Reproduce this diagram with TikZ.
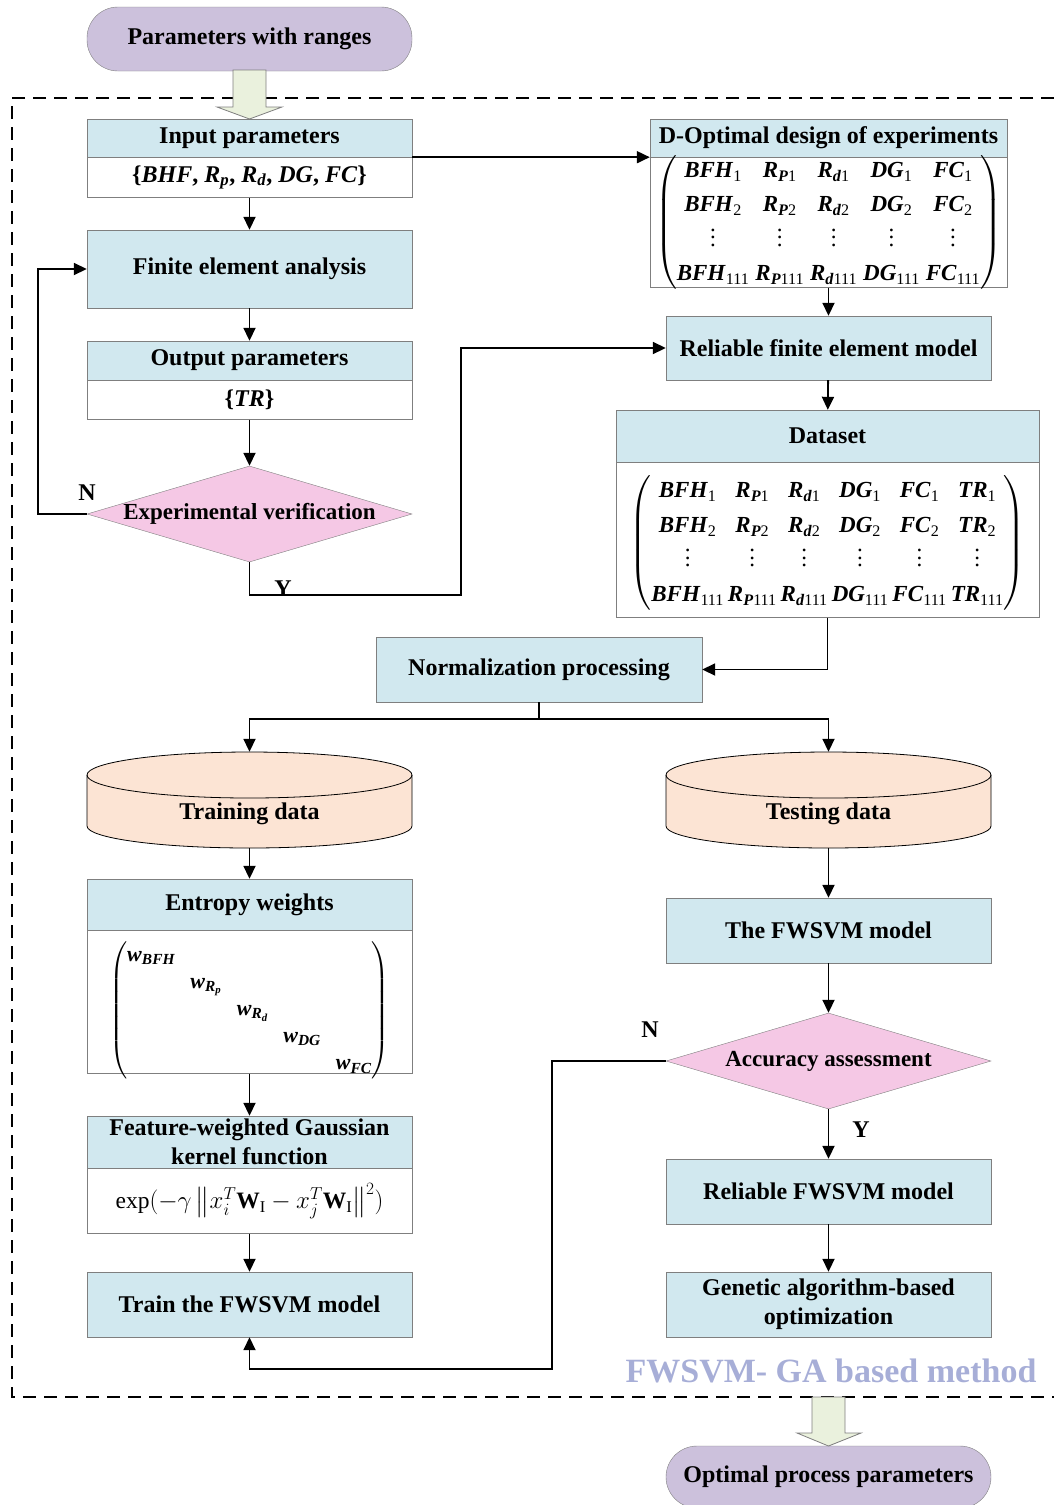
\documentclass[tikz,border=0pt]{standalone}
\usepackage{amsmath}
\usepackage{fontspec}
\setmainfont{Liberation Serif}
\usetikzlibrary{arrows.meta,positioning,shapes.geometric}
\definecolor{boxblue}{HTML}{D1E8EF}
\definecolor{lavender}{HTML}{CCC1DC}
\definecolor{pinkish}{HTML}{F5C8E5}
\definecolor{peach}{HTML}{FCE4D4}
\definecolor{arrowgreen}{HTML}{EAF1DD}
\definecolor{titleblue}{HTML}{A7AED7}
\definecolor{bordergray}{HTML}{7F7F7F}
\newcommand{\boxfont}{\bfseries\fontsize{24}{29}\selectfont}
\newcommand{\matfont}{\fontsize{23}{25}\selectfont}
\newcommand{\sbi}[1]{\textbf{\textit{#1}}}
\newcommand{\mv}[2]{\sbi{#1}\textsubscript{#2}}
\newcommand{\vd}{\vbox{\baselineskip=7.5pt\lineskiplimit=0pt\hbox{.}\hbox{.}\hbox{.}}}

\begin{document}
\begin{tikzpicture}[x=1pt,y=1pt,
  box/.style={draw=bordergray, fill=boxblue, minimum width=325pt, font=\boxfont, align=center, inner sep=2pt},
  sub/.style={draw=bordergray, fill=white, minimum width=325pt, inner sep=0pt, font=\matfont},
  term/.style={draw=bordergray, fill=lavender, rounded corners=31pt, minimum width=325pt, minimum height=64pt, font=\boxfont},
  decision/.style={diamond, draw=bordergray, fill=pinkish, minimum width=325pt, minimum height=96pt, inner sep=0pt, shape aspect=3.4, font=\bfseries\fontsize{23}{27}\selectfont},
  cyl/.style={minimum width=325pt, minimum height=96pt, inner sep=0pt, text height=67pt, text depth=29pt, font=\boxfont},
  lbl/.style={font=\boxfont},
  arr/.style={-{Triangle[length=13pt,width=12pt]}, line width=1.8pt},
  bigarrow/.style={draw=bordergray, fill=arrowgreen, line width=0.8pt}
  ]
  \useasboundingbox (0,0) rectangle (1054,-1505);

  % frame of the method
  \draw[line width=1.8pt, dash pattern=on 13pt off 8pt] (1054,-98) -- (12,-98) -- (12,-1397) -- (1054,-1397);
  \node[font=\bfseries\fontsize{34}{38}\selectfont, text=titleblue] (method) at (831,-1371) {FWSVM- GA based method};

  % start and end
  \node[term] (start) at (249.5,-39) {Parameters with ranges};
  \node[term, minimum height=62pt] (stop) at (828.5,-1477) {Optimal process parameters};
  \draw[bigarrow] (233,-70) -- (233,-107) -- (217,-107) -- (249.5,-119) -- (282,-107) -- (266,-107) -- (266,-70) -- cycle;
  \draw[bigarrow] (812,-1397) -- (812,-1433) -- (797,-1433) -- (828.5,-1446) -- (861,-1433) -- (845,-1433) -- (845,-1397) -- cycle;

  % left column
  \node[box, minimum height=38pt] (inp) at (249.5,-138) {Input parameters};
  \node[sub, minimum height=40pt, below=0pt of inp, font=\boxfont] (inpv) {\{\sbi{BHF}, \sbi{R}\textsubscript{\sbi{p}}, \sbi{R}\textsubscript{\sbi{d}}, \sbi{DG}, \sbi{FC}\}};
  \node[box, minimum height=78pt] (fea) at (249.5,-269) {Finite element analysis};
  \node[box, minimum height=39pt] (outp) at (249.5,-360.5) {Output parameters};
  \node[sub, minimum height=39pt, below=0pt of outp, font=\boxfont] (outv) {\{\sbi{TR}\}};
  \node[decision] (expv) at (249.5,-514) {Experimental verification};

  % right column
  \node[box, minimum width=357pt, minimum height=38pt] (dopt) at (828.5,-138) {D-Optimal design of experiments};
  \node[sub, minimum width=357pt, minimum height=130pt, below=0pt of dopt] (doptm) {%
    \setlength{\tabcolsep}{3pt}\renewcommand{\arraystretch}{1.37}%
    \smash{\raisebox{-6pt}{$\left(\begin{tabular}{@{}ccccc@{}}
      \mv{BFH}{1} & \mv{R}{\sbi{P}1} & \mv{R}{\sbi{d}1} & \mv{DG}{1} & \mv{FC}{1}\\
      \mv{BFH}{2} & \mv{R}{\sbi{P}2} & \mv{R}{\sbi{d}2} & \mv{DG}{2} & \mv{FC}{2}\\
      \vd & \vd & \vd & \vd & \vd\\
      \mv{BFH}{111} & \mv{R}{\sbi{P}111} & \mv{R}{\sbi{d}111} & \mv{DG}{111} & \mv{FC}{111}
    \end{tabular}\right)$}}};
  \node[box, minimum height=64pt] (rfem) at (828.5,-348) {Reliable finite element model};
  \node[box, minimum width=423pt, minimum height=52pt] (data) at (827.5,-436) {Dataset};
  \node[sub, minimum width=423pt, minimum height=155pt, below=0pt of data] (datam) {%
    \setlength{\tabcolsep}{2pt}\renewcommand{\arraystretch}{1.38}%
    \smash{\raisebox{-9pt}{$\left(\begin{tabular}{@{}cccccc@{}}
      \mv{BFH}{1} & \mv{R}{\sbi{P}1} & \mv{R}{\sbi{d}1} & \mv{DG}{1} & \mv{FC}{1} & \mv{TR}{1}\\
      \mv{BFH}{2} & \mv{R}{\sbi{P}2} & \mv{R}{\sbi{d}2} & \mv{DG}{2} & \mv{FC}{2} & \mv{TR}{2}\\
      \vd & \vd & \vd & \vd & \vd & \vd\\
      \mv{BFH}{111} & \mv{R}{\sbi{P}111} & \mv{R}{\sbi{d}111} & \mv{DG}{111} & \mv{FC}{111} & \mv{TR}{111}
    \end{tabular}\right)$}}};
  \node[box, minimum width=326pt, minimum height=65pt] (norm) at (539,-669.5) {Normalization processing};

  % data sets
  \foreach \cx in {249.5,828.5}{
    \filldraw[draw=black, fill=peach, line width=0.8pt] (\cx-162.5,-775) -- (\cx-162.5,-826)
      arc[start angle=180, end angle=360, x radius=162.5, y radius=22] -- (\cx+162.5,-775)
      arc[start angle=0, end angle=180, x radius=162.5, y radius=23] -- cycle;
    \draw[line width=0.8pt] (\cx-162.5,-775) arc[start angle=180, end angle=360, x radius=162.5, y radius=23];
  }
  \node[cyl] (train) at (249.5,-800) {Training data};
  \node[cyl] (test) at (828.5,-800) {Testing data};

  % training branch
  \node[box, minimum height=51pt] (ent) at (249.5,-904.5) {Entropy weights};
  \node[sub, minimum height=143pt, below=0pt of ent, font=\fontsize{22}{24}\selectfont] (entm) {%
    \setlength{\tabcolsep}{7.5pt}\renewcommand{\arraystretch}{1.13}%
    \smash{\raisebox{-13.5pt}{$\left(\begin{tabular}{@{}ccccc@{}}
      \sbi{w}\textsubscript{\sbi{BFH}} & & & & \\
      & \sbi{w}\textsubscript{\sbi{R}\textsubscript{\sbi{p}}} & & & \\
      & & \sbi{w}\textsubscript{\sbi{R}\textsubscript{\sbi{d}}} & & \\
      & & & \sbi{w}\textsubscript{\sbi{DG}} & \\
      & & & & \sbi{w}\textsubscript{\sbi{FC}}
    \end{tabular}\right)$}}};
  \node[box, minimum height=52pt, inner sep=0pt] (kern) at (249.5,-1142) {Feature-weighted Gaussian\\kernel function};
  \node[sub, minimum height=65pt, below=0pt of kern, font=\fontsize{23.5}{25}\selectfont] (kernf) {$\text{exp}(-\gamma\left\|x_i^T\mathbf{W}_\mathrm{I}-x_j^T\mathbf{W}_\mathrm{I}\right\|^2)$};
  \node[box, minimum height=65pt] (trainm) at (249.5,-1304.5) {Train the FWSVM model};

  % testing branch
  \node[box, minimum height=65pt] (fwsvm) at (828.5,-930.5) {The FWSVM model};
  \node[decision] (acc) at (828.5,-1061) {Accuracy assessment};
  \node[box, minimum height=65pt] (rfwsvm) at (828.5,-1191.5) {Reliable FWSVM model};
  \node[box, minimum height=65pt] (ga) at (828.5,-1304.5) {Genetic algorithm-based\\optimization};

  % connectors
  \draw[arr] (inpv) -- (fea);
  \draw[arr] (inp.south east) -- (dopt.south west);
  \draw[arr] (fea) -- (outp);
  \draw[arr] (outv) -- (expv);
  \draw[arr] (expv.west) -- ++(-49,0) |- (fea.west);
  \node[lbl] (no1) at (87,-493) {N};
  \draw[arr] (expv.south) |- (461,-595) |- (rfem.west);
  \node[lbl] (yes1) at (283,-589) {Y};
  \draw[arr] (doptm) -- (rfem);
  \draw[arr] (rfem) -- (data);
  \draw[arr] (datam.south) |- (norm.east);
  \draw[line width=1.8pt] (norm.south) -- ++(0,-17) coordinate (split);
  \draw[arr] (split) -| (train.north);
  \draw[arr] (split) -| (test.north);
  \draw[arr] (train) -- (ent);
  \draw[arr] (entm) -- (kern);
  \draw[arr] (kernf) -- (trainm);
  \draw[arr] (test) -- (fwsvm);
  \draw[arr] (fwsvm) -- (acc);
  \draw[arr] (acc.west) -| (552,-1369) -| (trainm.south);
  \node[lbl] (no2) at (650,-1030) {N};
  \draw[arr] (acc) -- (rfwsvm);
  \node[lbl] (yes2) at (861,-1130) {Y};
  \draw[arr] (rfwsvm) -- (ga);
\end{tikzpicture}
\end{document}
